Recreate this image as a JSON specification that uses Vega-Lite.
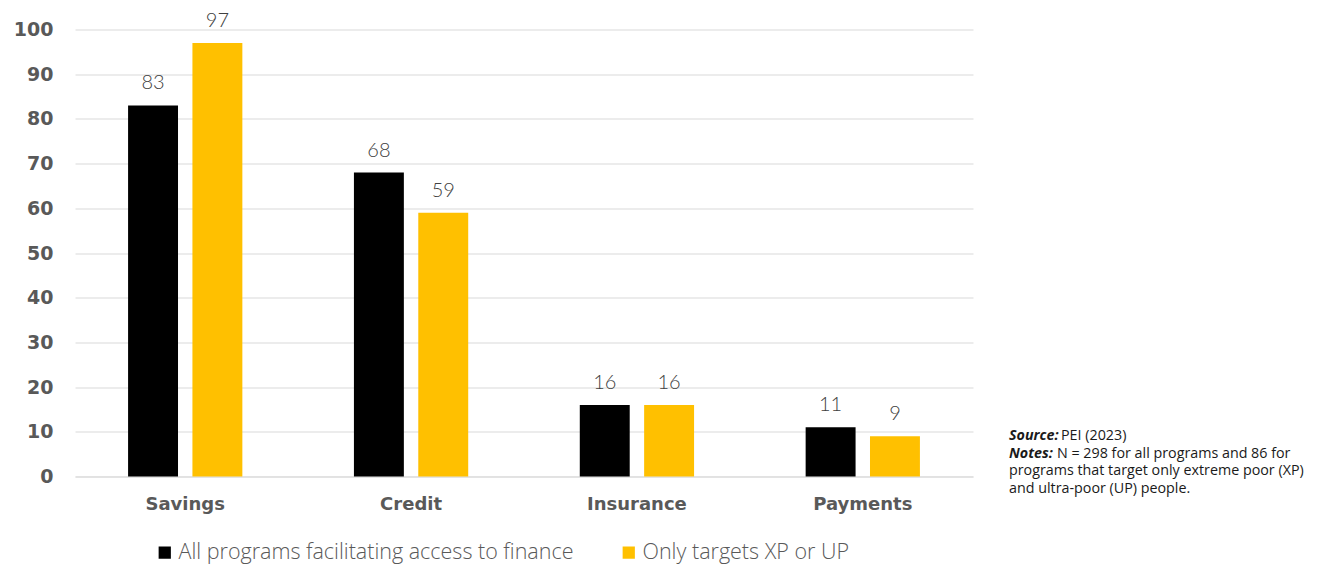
{
  "$schema": "https://vega.github.io/schema/vega-lite/v6.json",
  "background": "white",
  "padding": {"left": 13, "top": 10.5, "right": 0, "bottom": 0},
  "config": {"view": {"stroke": null}, "font": "Lato"},
  "bounds": "flush",
  "spacing": 36,
  "hconcat": [
    {
      "width": 898,
      "height": 447,
      "data": {
        "values": [
          {"type": "Savings", "group": "All programs facilitating access to finance", "value": 83},
          {"type": "Savings", "group": "Only targets XP or UP", "value": 97},
          {"type": "Credit", "group": "All programs facilitating access to finance", "value": 68},
          {"type": "Credit", "group": "Only targets XP or UP", "value": 59},
          {"type": "Insurance", "group": "All programs facilitating access to finance", "value": 16},
          {"type": "Insurance", "group": "Only targets XP or UP", "value": 16},
          {"type": "Payments", "group": "All programs facilitating access to finance", "value": 11},
          {"type": "Payments", "group": "Only targets XP or UP", "value": 9}
        ]
      },
      "encoding": {
        "x": {
          "field": "type",
          "type": "nominal",
          "sort": null,
          "scale": {"paddingInner": 0.494, "paddingOuter": 0.235},
          "axis": {
            "title": null,
            "labelAngle": 0,
            "labelFont": "DejaVu Sans",
            "labelFontWeight": "bold",
            "labelFontSize": 18,
            "labelColor": "#595959",
            "labelPadding": 19,
            "ticks": false,
            "domainColor": "#d9d9d9",
            "domainWidth": 1,
            "grid": false
          }
        },
        "xOffset": {
          "field": "group",
          "type": "nominal",
          "sort": ["All programs facilitating access to finance", "Only targets XP or UP"],
          "scale": {"paddingInner": 0.224, "paddingOuter": 0}
        },
        "y": {
          "field": "value",
          "type": "quantitative",
          "scale": {"domain": [0, 100]},
          "axis": {
            "title": null,
            "values": [0, 10, 20, 30, 40, 50, 60, 70, 80, 90, 100],
            "labelFont": "DejaVu Sans",
            "labelFontWeight": "bold",
            "labelFontSize": 19,
            "labelColor": "#595959",
            "labelPadding": 22,
            "ticks": false,
            "domain": false,
            "gridColor": "#d9d9d9",
            "gridWidth": 1
          }
        }
      },
      "layer": [
        {
          "mark": {"type": "bar"},
          "encoding": {
            "color": {
              "field": "group",
              "type": "nominal",
              "scale": {
                "domain": ["All programs facilitating access to finance", "Only targets XP or UP"],
                "range": ["#000000", "#FFC000"]
              },
              "legend": {
                "title": null,
                "orient": "none",
                "legendX": 79,
                "legendY": 512,
                "direction": "horizontal",
                "symbolType": "square",
                "symbolSize": 150,
                "symbolStrokeWidth": 0,
                "labelFont": "Open Sans",
                "labelFontSize": 21.5,
                "labelFontWeight": 300,
                "labelColor": "#595959",
                "labelOffset": 3,
                "columnPadding": 44,
                "labelLimit": 600
              }
            }
          }
        },
        {
          "mark": {
            "type": "text",
            "baseline": "alphabetic",
            "dy": -16,
            "font": "Lato",
            "fontSize": 20,
            "fontWeight": 300,
            "color": "#404040"
          },
          "encoding": {"text": {"field": "value", "type": "quantitative"}}
        }
      ]
    },
    {
      "width": 300,
      "height": 447,
      "data": {
        "values": [
          {"line": 1, "kind": "head", "text": "Source:"},
          {"line": 1, "kind": "body", "text": "PEI (2023)"},
          {"line": 2, "kind": "head", "text": "Notes:"},
          {"line": 2, "kind": "body", "text": "N = 298 for all programs and 86 for"},
          {"line": 3, "kind": "cont", "text": "programs that target only extreme poor (XP)"},
          {"line": 4, "kind": "cont", "text": "and ultra-poor (UP) people."}
        ]
      },
      "encoding": {
        "x": {"datum": 0, "type": "quantitative", "scale": {"domain": [0, 1]}, "axis": null},
        "y": {
          "field": "line",
          "type": "ordinal",
          "scale": {"type": "point", "domain": [1, 2, 3, 4], "range": [410.5, 463.5], "padding": 0},
          "axis": null
        },
        "text": {"field": "text", "type": "nominal"}
      },
      "layer": [
        {
          "transform": [{"filter": "datum.kind === 'head'"}],
          "mark": {"type": "text", "align": "left", "baseline": "alphabetic", "font": "Open Sans", "fontSize": 14.3, "fontWeight": "bold", "fontStyle": "italic", "color": "#1a1a1a"}
        },
        {
          "transform": [{"filter": "datum.kind === 'body' && datum.line === 1"}],
          "mark": {"type": "text", "align": "left", "baseline": "alphabetic", "dx": 52, "font": "Open Sans", "fontSize": 14.3, "color": "#1a1a1a"}
        },
        {
          "transform": [{"filter": "datum.kind === 'body' && datum.line === 2"}],
          "mark": {"type": "text", "align": "left", "baseline": "alphabetic", "dx": 48, "font": "Open Sans", "fontSize": 14.3, "color": "#1a1a1a"}
        },
        {
          "transform": [{"filter": "datum.kind === 'cont'"}],
          "mark": {"type": "text", "align": "left", "baseline": "alphabetic", "font": "Open Sans", "fontSize": 14.3, "color": "#1a1a1a"}
        }
      ]
    }
  ]
}
